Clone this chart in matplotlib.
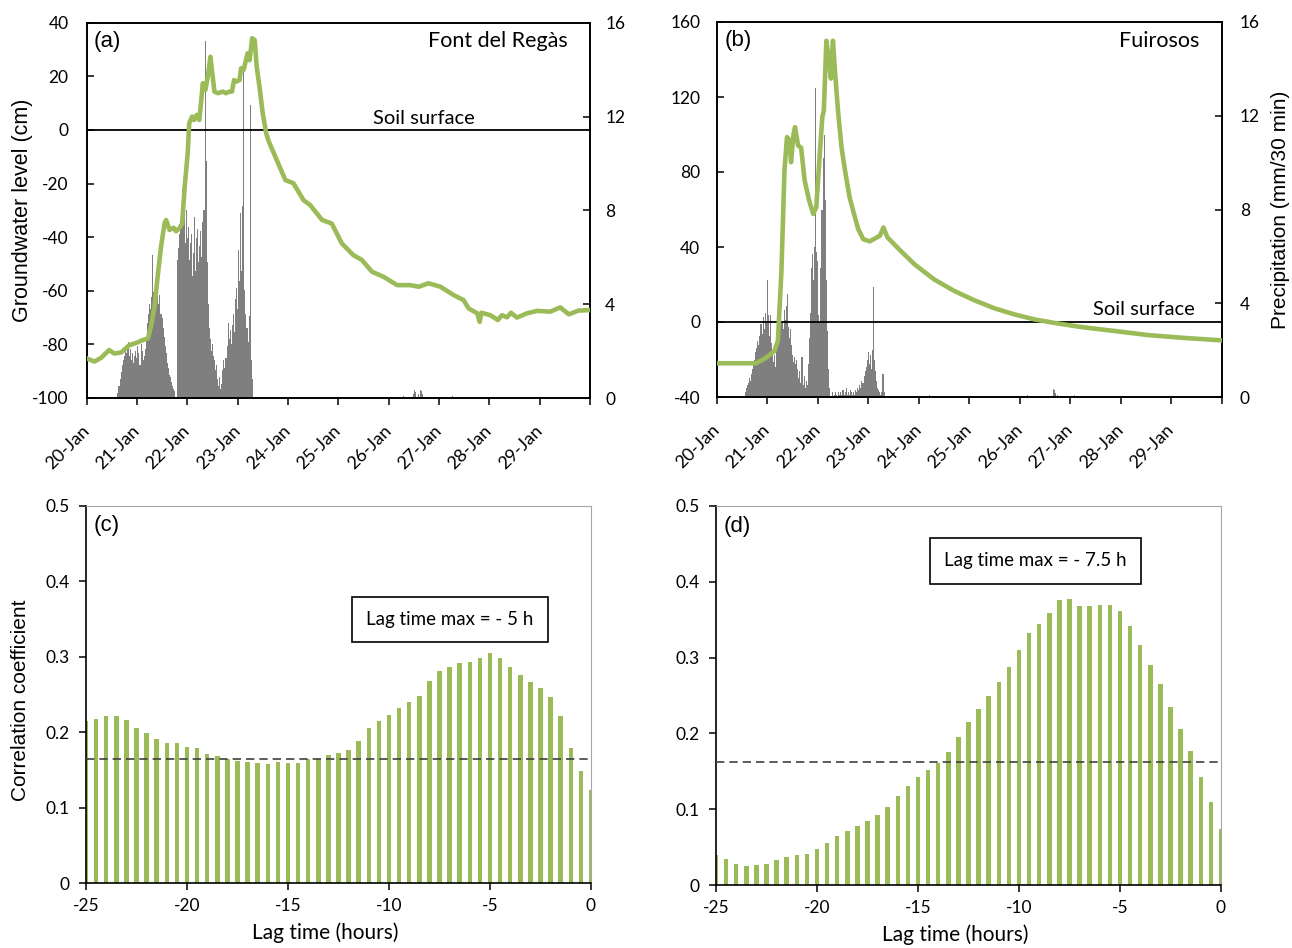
import numpy as np
import matplotlib
matplotlib.use('Agg')
import matplotlib.pyplot as plt

plt.rcParams['font.family'] = ['Lato', 'DejaVu Sans']
plt.rcParams['axes.unicode_minus'] = False

GREEN = '#9BBB59'
GRAY = '#7F7F7F'
ARIAL = ['Liberation Sans', 'DejaVu Sans']

# ---------------- data ----------------
date_labels = ['20-Jan', '21-Jan', '22-Jan', '23-Jan', '24-Jan', '25-Jan',
               '26-Jan', '27-Jan', '28-Jan', '29-Jan', '']

# Font del Regàs groundwater level (days after 20-Jan 00:00, cm)
gw_a_day = [0.00, 0.16, 0.29, 0.45, 0.55, 0.69, 0.85, 0.98, 1.12, 1.22,
            1.28, 1.35, 1.42, 1.48, 1.55, 1.58, 1.65, 1.73, 1.78, 1.85,
            1.90, 1.95, 2.01, 2.04, 2.10, 2.14, 2.19, 2.24, 2.28, 2.31,
            2.36, 2.41, 2.46, 2.50, 2.54, 2.61, 2.71, 2.77, 2.84, 2.89,
            2.93, 2.97, 3.04, 3.07, 3.12, 3.20, 3.24, 3.29, 3.34, 3.38,
            3.44, 3.50, 3.57, 3.61, 3.75, 3.95, 4.11, 4.31, 4.44, 4.68,
            4.87, 5.07, 5.30, 5.47, 5.67, 5.90, 6.17, 6.43, 6.60, 6.79,
            7.03, 7.29, 7.49, 7.59, 7.76, 7.81, 7.84, 8.02, 8.17, 8.25,
            8.35, 8.43, 8.55, 8.75, 8.95, 9.21, 9.41, 9.58, 9.77, 10.0]
gw_a_cm = [-85.2, -86.4, -85.0, -82.1, -83.4, -83.0, -80.3, -79.5, -78.4, -77.8,
           -73.4, -66.0, -53.5, -43.6, -34.9, -33.6, -37.3, -36.5, -37.8, -36.5,
           -34.9, -21.2, -8.7, 2.5, 5.0, 3.7, 5.6, 3.7, 11.2, 17.4,
           14.9, 19.9, 27.3, 21.1, 14.3, 13.7, 14.3, 13.7, 14.3, 14.3,
           18.6, 18.0, 18.6, 23.0, 22.4, 28.6, 26.0, 34.2, 33.5, 23.6,
           15.5, 6.2, -1.3, -3.8, -10.0, -18.7, -19.9, -26.2, -28.0, -33.6,
           -34.9, -42.3, -46.7, -48.5, -52.9, -54.8, -57.9, -57.9, -58.5, -57.2,
           -58.5, -61.6, -63.5, -66.6, -68.4, -71.6, -68.2, -69.1, -70.9, -69.1,
           -69.9, -68.2, -70.0, -68.4, -67.5, -67.8, -66.2, -68.8, -67.4, -67.2]

# Font del Regàs precipitation, 30-min totals (mm) from day 0.625
precip_a_start = 0.625
precip_a_mm = [0.2, 0.5, 0.8, 1.1, 1.4, 1.6, 1.8, 2.0, 1.9, 2.2,
               2.4, 1.8, 2.1, 1.6, 1.9, 1.5, 1.8, 2.0, 1.7, 2.2,
               1.9, 1.4, 2.3, 2.0, 1.6, 1.8, 2.1, 2.6, 3.2, 3.6,
               4.0, 3.8, 4.3, 6.1, 4.5, 3.9, 4.3, 4.2, 4.6, 4.0,
               4.4, 3.6, 3.4, 3.0, 2.6, 2.2, 1.9, 1.5, 1.3, 1.0,
               0.9, 0.7, 0.5, 0.4, 0.3, 0.0, 0.0, 5.9, 6.4, 7.0,
               7.6, 7.4, 8.9, 8.3, 6.6, 8.0, 6.8, 7.3, 5.9, 6.6,
               7.0, 5.2, 6.2, 7.7, 5.4, 6.8, 7.2, 5.8, 6.5, 7.1,
               6.0, 7.5, 8.0, 15.2, 10.1, 5.8, 4.0, 3.0, 2.5, 2.0,
               2.3, 1.8, 1.6, 1.2, 1.4, 0.8, 0.5, 0.9, 0.4, 0.6,
               1.2, 1.6, 1.3, 1.7, 2.2, 3.2, 2.5, 2.9, 2.3, 3.1,
               3.6, 2.8, 4.2, 4.7, 3.8, 6.3, 5.0, 7.9, 5.4, 8.2,
               13.9, 4.6, 3.6, 3.0, 2.4, 3.5, 12.5, 1.6, 0.8]
precip_a_late_day = [6.29, 6.50, 6.52, 6.54, 6.60, 6.63, 6.65, 6.67, 7.27]
precip_a_late_mm = [0.08, 0.15, 0.35, 0.25, 0.15, 0.35, 0.30, 0.15, 0.08]

# Fuirosos groundwater level
gw_b_day = [0.00, 0.40, 0.78, 0.98, 1.14, 1.21, 1.28, 1.34, 1.39, 1.44,
            1.47, 1.52, 1.55, 1.61, 1.67, 1.74, 1.83, 1.91, 1.97, 2.04,
            2.09, 2.12, 2.17, 2.22, 2.26, 2.30, 2.34, 2.40, 2.47, 2.54,
            2.63, 2.70, 2.80, 2.90, 3.03, 3.16, 3.23, 3.30, 3.38, 3.64,
            3.91, 4.30, 4.70, 5.10, 5.50, 5.89, 6.29, 6.69, 7.22, 7.88,
            8.55, 9.21, 10.0]
gw_b_cm = [-22.0, -22.0, -22.0, -19.0, -15.5, -10.0, 27.0, 80.7, 98.6, 97.0,
           85.2, 100.4, 103.9, 94.1, 93.0, 75.4, 64.7, 57.6, 61.1, 89.7,
           109.3, 112.8, 150.0, 139.6, 129.8, 150.0, 134.0, 112.8, 93.2, 80.7,
           66.5, 59.4, 49.6, 44.2, 43.0, 45.0, 46.0, 50.4, 45.1, 38.0,
           30.9, 22.8, 16.6, 11.6, 7.3, 4.1, 1.4, -0.5, -2.7, -4.8,
           -7.0, -8.4, -9.8]

# Fuirosos precipitation, 30-min totals (mm) from day 0.5625
precip_b_start = 0.5625
precip_b_mm = [0.2, 0.4, 0.5, 0.6, 0.8, 0.7, 1.0, 1.2, 1.4, 1.6,
               1.9, 2.1, 2.4, 2.2, 2.6, 3.1, 2.7, 3.4, 2.9, 3.6,
               3.2, 5.0, 3.5, 2.6, 3.5, 2.3, 1.8, 1.5, 1.8, 1.3,
               2.0, 2.6, 3.2, 2.8, 3.6, 3.2, 2.9, 3.7, 3.3, 3.9,
               4.4, 3.0, 2.5, 2.9, 2.2, 1.8, 1.5, 1.7, 1.4, 1.6,
               1.2, 0.8, 1.1, 0.6, 1.7, 0.5, 0.9, 0.4, 0.7, 0.5,
               1.4, 2.5, 3.6, 5.5, 6.1, 5.0, 6.4, 13.2, 6.2, 5.8,
               3.5, 3.2, 5.5, 8.0, 10.2, 11.2, 8.4, 5.0, 2.8, 1.2,
               0.4, 0.0, 0.0, 0.2, 0.0, 0.1, 0.2, 0.1, 0.0, 0.2,
               0.1, 0.2, 0.1, 0.3, 0.1, 0.2, 0.4, 0.1, 0.2, 0.1,
               0.3, 0.2, 0.1, 0.2, 0.1, 0.3, 0.2, 0.4, 0.3, 0.5,
               0.4, 0.7, 0.6, 0.9, 1.1, 1.3, 1.6, 1.9, 1.4, 1.8,
               1.2, 2.0, 4.7, 1.6, 1.1, 0.7, 0.4, 0.3, 0.2, 0.1,
               0.2, 1.0, 0.2]
precip_b_late_day = [4.21, 6.15, 6.67, 6.69, 6.71, 6.75, 7.08]
precip_b_late_mm = [0.10, 0.10, 0.35, 0.30, 0.15, 0.10, 0.10]

# Cross-correlation (lag in hours)
lag_hours = [-25.0, -24.5, -24.0, -23.5, -23.0, -22.5, -22.0, -21.5, -21.0, -20.5,
             -20.0, -19.5, -19.0, -18.5, -18.0, -17.5, -17.0, -16.5, -16.0, -15.5,
             -15.0, -14.5, -14.0, -13.5, -13.0, -12.5, -12.0, -11.5, -11.0, -10.5,
             -10.0, -9.5, -9.0, -8.5, -8.0, -7.5, -7.0, -6.5, -6.0, -5.5,
             -5.0, -4.5, -4.0, -3.5, -3.0, -2.5, -2.0, -1.5, -1.0, -0.5, 0.0]
corr_c = [0.215, 0.218, 0.222, 0.222, 0.216, 0.206, 0.199, 0.191, 0.186, 0.186,
          0.181, 0.179, 0.171, 0.169, 0.165, 0.162, 0.161, 0.159, 0.158, 0.160,
          0.159, 0.159, 0.164, 0.164, 0.170, 0.173, 0.177, 0.188, 0.206, 0.215,
          0.223, 0.232, 0.240, 0.248, 0.268, 0.281, 0.287, 0.292, 0.293, 0.299,
          0.305, 0.299, 0.286, 0.276, 0.267, 0.259, 0.247, 0.221, 0.179, 0.148, 0.123]
corr_d = [0.040, 0.034, 0.028, 0.025, 0.026, 0.028, 0.033, 0.037, 0.039, 0.041,
          0.047, 0.056, 0.064, 0.071, 0.078, 0.085, 0.093, 0.103, 0.117, 0.131,
          0.143, 0.152, 0.161, 0.176, 0.195, 0.215, 0.232, 0.249, 0.268, 0.288,
          0.310, 0.332, 0.344, 0.359, 0.376, 0.377, 0.368, 0.368, 0.370, 0.369,
          0.362, 0.342, 0.316, 0.290, 0.265, 0.235, 0.206, 0.177, 0.143, 0.109, 0.074]
signif_c = 0.164
signif_d = 0.162
corr_yticks = [0, 0.1, 0.2, 0.3, 0.4, 0.5]
corr_yticklabels = ['0', '0.1', '0.2', '0.3', '0.4', '0.5']
lag_xticks = [-25, -20, -15, -10, -5, 0]

# ---------------- figure ----------------
W, H = 1292, 948
fig = plt.figure(figsize=(W / 100, H / 100), dpi=100)


def rect(l, r, t, b):
    return [l / W, (H - b) / H, (r - l) / W, (b - t) / H]


def ts_panel(rc, days, cm, p_start, p_mm, late_d, late_mm, ylim, yticks,
             title, tag, soil_x, soil_y, lpad, rpad):
    ax = fig.add_axes(rc)
    ax2 = ax.twinx()
    ax.set_zorder(ax2.get_zorder() + 1)
    ax.patch.set_visible(False)

    t = p_start + np.arange(len(p_mm)) / 48.0
    ax2.bar(t, p_mm, width=1 / 48.0, color=GRAY, linewidth=0, align='center')
    ax2.bar(late_d, late_mm, width=1 / 48.0, color=GRAY, linewidth=0)
    ax2.set_ylim(0, 16)
    ax2.set_yticks([0, 4, 8, 12, 16])

    ax.axhline(0, color='black', lw=1.3, zorder=2)
    ax.plot(days, cm, color=GREEN, lw=3.3, zorder=3, solid_joinstyle='round')
    ax.set_xlim(0, 10)
    ax.set_ylim(*ylim)
    ax.set_yticks(yticks)
    ax.set_xticks(range(11))
    ax.set_xticklabels(date_labels, rotation=45, ha='right', va='center',
                       rotation_mode='anchor', fontsize=13)
    ax.tick_params(axis='x', direction='out', length=5, width=1.1, pad=17)
    ax.tick_params(axis='y', direction='in', length=5, width=1.1, pad=lpad,
                   labelsize=12.5)
    ax2.tick_params(axis='y', direction='in', length=5, width=1.1, pad=rpad,
                    labelsize=12.5)
    for a in (ax, ax2):
        for s in a.spines.values():
            s.set_color('black')
            s.set_linewidth(1.2)

    ax.text(0.015, 0.95, tag, transform=ax.transAxes, fontsize=16,
            family=ARIAL, ha='left', va='center')
    ax.text(0.955, 0.95, title, transform=ax.transAxes, fontsize=15.5,
            ha='right', va='center')
    ax.text(soil_x, soil_y, 'Soil surface', fontsize=14.5, ha='center',
            va='bottom')
    return ax, ax2


ax_a, ax_a2 = ts_panel(rect(86.5, 590, 22.7, 398), gw_a_day, gw_a_cm,
                       precip_a_start, precip_a_mm, precip_a_late_day,
                       precip_a_late_mm, (-100, 40), list(range(-100, 41, 20)),
                       'Font del Regàs', '(a)', 6.71, 1.2, 13, 11)
ax_a.set_ylabel('Groundwater level (cm)', family=ARIAL, fontsize=15.5)
ax_a.yaxis.set_label_coords(-0.107, 0.5)

ax_b, ax_b2 = ts_panel(rect(716.8, 1221.7, 22, 397), gw_b_day, gw_b_cm,
                       precip_b_start, precip_b_mm, precip_b_late_day,
                       precip_b_late_mm, (-40, 160), list(range(-40, 161, 40)),
                       'Fuirosos', '(b)', 8.45, 2.0, 12, 13)
ax_b2.set_ylabel('Precipitation (mm/30 min)', family=ARIAL, fontsize=15,
                 rotation=90)
ax_b2.yaxis.set_label_coords(1.097, 0.5)


def corr_panel(rc, corr, signif, tag, box_text, box_xy):
    ax = fig.add_axes(rc)
    ax.bar(lag_hours, corr, width=0.22, color=GREEN, linewidth=0, zorder=2)
    ax.axhline(signif, color='#404040', lw=1.2, dashes=(5, 3), zorder=3)
    ax.set_xlim(-25, 0)
    ax.set_ylim(0, 0.5)
    ax.set_xticks(lag_xticks)
    ax.set_yticks(corr_yticks)
    ax.set_yticklabels(corr_yticklabels)
    ax.tick_params(direction='out', length=5, width=1.1, labelsize=12.5)
    ax.tick_params(axis='y', pad=7)
    ax.tick_params(axis='x', pad=6)
    ax.spines['left'].set_color('black')
    ax.spines['bottom'].set_color('black')
    ax.spines['left'].set_linewidth(1.2)
    ax.spines['bottom'].set_linewidth(1.2)
    ax.spines['top'].set_color('#A6A6A6')
    ax.spines['right'].set_color('#A6A6A6')
    ax.set_xlabel('Lag time (hours)', fontsize=15)
    ax.xaxis.set_label_coords(0.473, -0.105)
    ax.text(0.016, 0.947, tag, transform=ax.transAxes, fontsize=16,
            family=ARIAL, ha='left', va='center')
    ax.text(box_xy[0], box_xy[1], box_text, transform=ax.transAxes,
            fontsize=13.5, ha='center', va='center', zorder=5,
            bbox=dict(boxstyle='square,pad=0.75', facecolor='white',
                      edgecolor='black', linewidth=1.2))
    return ax


ax_c = corr_panel(rect(86, 591, 506, 883), corr_c, signif_c, '(c)',
                  'Lag time max = - 5 h', (0.721, 0.698))
ax_c.set_ylabel('Correlation coefficient', family=ARIAL, fontsize=15)
ax_c.yaxis.set_label_coords(-0.11, 0.485)

ax_d = corr_panel(rect(716, 1221, 506, 885), corr_d, signif_d, '(d)',
                  'Lag time max = - 7.5 h', (0.632, 0.855))

fig.savefig('out.png', dpi=100)
